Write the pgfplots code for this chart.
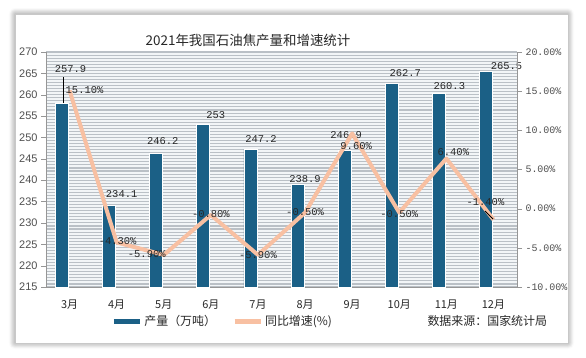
\documentclass[border=0pt]{standalone}
\usepackage{fontspec}
\setmainfont{Noto Sans CJK SC}
\newfontfamily\monof{Liberation Mono}
\newfontfamily\sansf{Liberation Sans}
\usepackage{pgfplots}
\pgfplotsset{compat=1.18}
\usepackage{pgfplotstable}
\usetikzlibrary{shadows.blur}

\definecolor{barc}{RGB}{27,96,134}
\definecolor{linec}{RGB}{248,192,162}
\definecolor{stripe}{RGB}{186,192,198}
\definecolor{bgc}{RGB}{242,245,247}
\definecolor{axc}{RGB}{150,150,150}
\definecolor{txt}{RGB}{40,40,40}
\definecolor{tick}{RGB}{80,80,80}
\definecolor{framec}{RGB}{200,200,200}

\pgfplotstableread{
x y dx dy
0 257.9 1 35
1 234.1 5 11
2 246.2 -1 13
3 253 5 10
4 247.2 3 10
5 238.9 0 6
6 246.9 -6 16
7 262.7 6 10
8 260.3 3 7
9 265.5 13 5
}\bardata

\pgfplotstableread{
x y dx dy
0 15.10 15 0
1 -4.30 1 1
2 -5.90 -17 1
3 -0.80 0 1
4 -5.90 0 0
5 -0.50 0 1
6 9.60 4 -13
7 -0.50 0 -1
8 6.40 7 6
9 -1.40 -8 18
}\linedata

\begin{document}
\begin{tikzpicture}[x=1bp,y=1bp]
\useasboundingbox (0,0) rectangle (586,-357);
\draw[draw=framec, fill=white, blur shadow={shadow xshift=0bp, shadow yshift=0bp, shadow blur radius=6bp, shadow blur steps=8, shadow opacity=50}] (15,-14) rectangle (568,-343);
\node[font=\fontsize{13.5}{15}\selectfont, text=txt] at (248,-40) {2021年我国石油焦产量和增速统计};

\begin{axis}[
  at={(46bp,-287bp)}, anchor=south west, scale only axis,
  width=471bp, height=235bp,
  xmin=-0.5, xmax=9.5, ymin=215, ymax=270,
  ytick={215,220,...,270}, minor y tick num=6,
  ymajorgrids, yminorgrids,
  major grid style={stripe, line width=1.1bp},
  minor grid style={stripe, line width=1.1bp},
  axis background/.style={fill=bgc},
  axis y line*=left, axis x line*=bottom,
  axis line style={axc, -},
  tick align=outside, major tick length=5bp, minor tick length=0pt,
  ytick style={axc},
  xtick={0,...,9},
  xticklabels={3月,4月,5月,6月,7月,8月,9月,10月,11月,12月},
  xtick style={draw=none},
  xticklabel style={font=\fontsize{11}{12}\selectfont, text=txt, yshift=-4bp},
  yticklabel style={font=\sansf\fontsize{11}{12}\selectfont, text=tick},
  /pgf/number format/assume math mode=true,
]
\addplot[ybar, bar width=13bp, bar shift=-7.5bp, fill=barc, draw=white, line width=0.8bp,
  nodes near coords,
  visualization depends on={\thisrow{dx} \as \dx},
  visualization depends on={\thisrow{dy} \as \dy},
  every node near coord/.append style={anchor=center, xshift=\dx bp, yshift=\dy bp,
     font=\monof\fontsize{10.5}{12}\selectfont, text=txt, inner sep=0pt}
] table[x=x,y=y]{\bardata};
\end{axis}

\begin{axis}[
  at={(46bp,-287bp)}, anchor=south west, scale only axis,
  width=471bp, height=235bp,
  xmin=-0.5, xmax=9.5, ymin=-10, ymax=20,
  ytick={-10,-5,...,20},
  axis y line*=right, axis x line=none,
  axis line style={axc, -},
  tick align=outside, major tick length=5bp,
  ytick style={axc},
  yticklabel={\pgfmathprintnumber[fixed,fixed zerofill,precision=2,assume math mode=true]{\tick}\%},
  yticklabel style={font=\monof\fontsize{10}{12}\selectfont, text=tick},
  legend style={at={(0.132,-0.145)}, anchor=west, draw=none, fill=none,
     font=\fontsize{12}{13}\selectfont, text=txt, legend columns=2,
     /tikz/every even column/.append style={column sep=14bp}},
  legend cell align=left,
  legend image code/.code={\draw[#1, line width=5bp] (0bp,0bp) -- (26bp,0bp);},
]
\addlegendimage{barc, line width=5bp}
\addlegendentry{产量（万吨）}
\addplot[linec, line width=4bp, line join=round, no markers,
  nodes near coords={\pgfmathprintnumber[fixed,fixed zerofill,precision=2,assume math mode=true]{\pgfplotspointmeta}\%},
  visualization depends on={\thisrow{dx} \as \dx},
  visualization depends on={\thisrow{dy} \as \dy},
  every node near coord/.append style={anchor=center, xshift=\dx bp, yshift=\dy bp,
     font=\monof\fontsize{10.5}{12}\selectfont, text=txt, inner sep=0pt}
] table[x=x,y=y]{\linedata};
\addlegendentry{同比增速(\%)}
\end{axis}

\draw[black, line width=0.8bp] (63,-77) -- (63,-103);
\draw[black, line width=0.8bp] (485,-211) -- (493,-219);
\node[anchor=west, font=\fontsize{12}{13}\selectfont, text=txt] at (424,-321) {数据来源：国家统计局};
\end{tikzpicture}
\end{document}
